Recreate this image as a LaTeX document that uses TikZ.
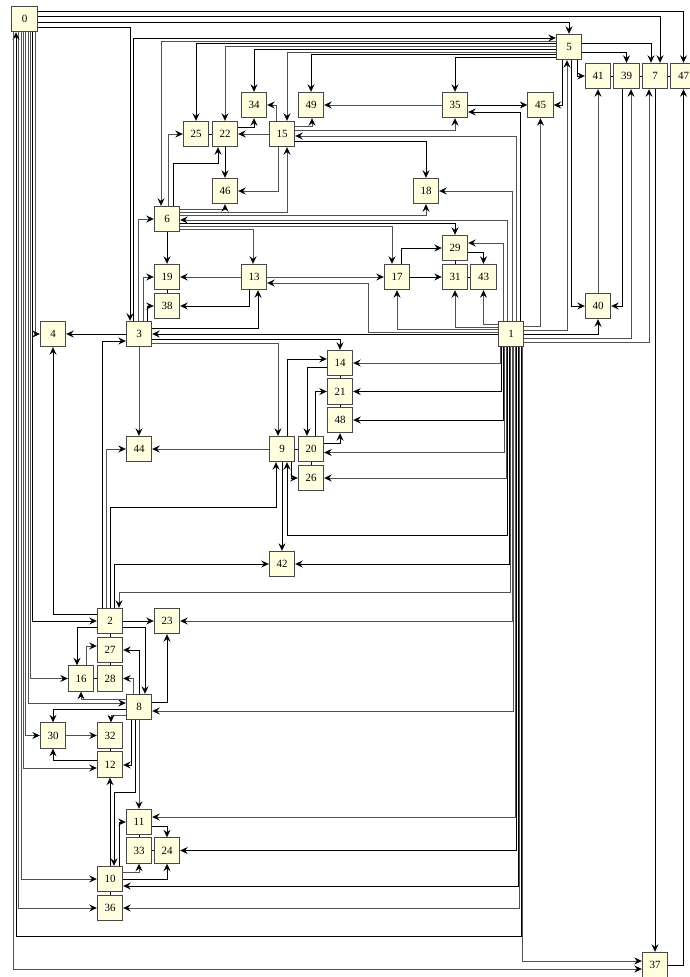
\documentclass[tikz,border=0pt]{standalone}
\usepackage{fontspec}
\setmainfont{Liberation Serif}
\usetikzlibrary{arrows.meta}
\definecolor{ly}{HTML}{FFFFE0}
\tikzset{
 nd/.style={draw=black!72, fill=ly, minimum width=25.5pt, minimum height=25.5pt, inner sep=0pt, line width=0.9pt, font=\fontsize{11}{13}\selectfont},
 e/.style={draw=black, line width=0.8pt, -{Stealth[length=7.5pt,width=7pt,inset=2.6pt,color=black]}},
 g/.style={e, draw=black!68},
 dt/.style={draw=black, line width=0.8pt},
}
\begin{document}
\begin{tikzpicture}[x=1pt,y=-1pt]
\useasboundingbox (0,0) rectangle (689,977);
\node[nd] (n0) at (24.5,19) {0};
\node[nd] (n5) at (569,47) {5};
\node[nd] (n41) at (598,76) {41};
\node[nd] (n39) at (626.5,76) {39};
\node[nd] (n7) at (655,76) {7};
\node[nd] (n47) at (683.5,76) {47};
\node[nd] (n35) at (455,105) {35};
\node[nd] (n45) at (540.5,105) {45};
\node[nd] (n34) at (254,105) {34};
\node[nd] (n49) at (311,105) {49};
\node[nd] (n25) at (196,134) {25};
\node[nd] (n22) at (225,134) {22};
\node[nd] (n15) at (282,134) {15};
\node[nd] (n46) at (225,191) {46};
\node[nd] (n18) at (426,191) {18};
\node[nd] (n6) at (167,219) {6};
\node[nd] (n29) at (455,248) {29};
\node[nd] (n19) at (167,277) {19};
\node[nd] (n13) at (254,277) {13};
\node[nd] (n17) at (397,277) {17};
\node[nd] (n31) at (455,277) {31};
\node[nd] (n43) at (483.5,277) {43};
\node[nd] (n38) at (167,306) {38};
\node[nd] (n40) at (598,306) {40};
\node[nd] (n4) at (53,334) {4};
\node[nd] (n3) at (139,334) {3};
\node[nd] (n1) at (511,334) {1};
\node[nd] (n14) at (340,363) {14};
\node[nd] (n21) at (340,391.5) {21};
\node[nd] (n48) at (340,420) {48};
\node[nd] (n44) at (139,449) {44};
\node[nd] (n9) at (282,449) {9};
\node[nd] (n20) at (311,449) {20};
\node[nd] (n26) at (311,478) {26};
\node[nd] (n42) at (282,564) {42};
\node[nd] (n2) at (110,621) {2};
\node[nd] (n23) at (167,621) {23};
\node[nd] (n27) at (110,650) {27};
\node[nd] (n16) at (81,678.5) {16};
\node[nd] (n28) at (110,678.5) {28};
\node[nd] (n8) at (139,707) {8};
\node[nd] (n30) at (53,735.5) {30};
\node[nd] (n32) at (110,735.5) {32};
\node[nd] (n12) at (110,764.5) {12};
\node[nd] (n11) at (139,822) {11};
\node[nd] (n33) at (139,850.5) {33};
\node[nd] (n24) at (167,850.5) {24};
\node[nd] (n10) at (110,879) {10};
\node[nd] (n36) at (110,908) {36};
\node[nd] (n37) at (655,965) {37};
% edges of 0
\draw[e] (n0.east |- 0,11) -| (n47.north);
\draw[e] (n0.east |- 0,16) -| (n7.north -| 660,0);
\draw[e] (n0.east |- 0,22) -| (n5.north);
\draw[e] (n0.east |- 0,27) -| (n3.north -| 130,0);
\draw[g] (n0.south -| 35,0) |- (n4.west);
\draw[e] (n0.south -| 32.5,0) |- (n2.west);
\draw[g] (n0.south -| 30,0) |- (n16.west);
\draw[g] (n0.south -| 28,0) |- (n8.west |- 0,703);
\draw[g] (n0.south -| 25.5,0) |- (n30.west);
\draw[g] (n0.south -| 23,0) |- (n12.west |- 0,768);
\draw[g] (n0.south -| 21,0) |- (n10.west);
\draw[g] (n0.south -| 18.5,0) |- (n36.west);
\draw[e] (n1.south -| 521,0) |- (16,936) -- (n0.south -| 16,0);
\draw[g] (n0.south -| 13.5,0) |- (n37.west |- 0,969);
% edges of 5
\draw[e] (n3.north -| 133,0) |- (n5.west |- 0,38);
\draw[g] (n5.west |- 0,41) -| (n6.north -| 161,0);
\draw[e] (n5.west |- 0,43.5) -| (n25.north);
\draw[g] (n5.west |- 0,46) -| (n22.north);
\draw[e] (n5.west |- 0,49) -| (n34.north);
\draw[g] (n5.west |- 0,52) -| (n15.north -| 287,0);
\draw[e] (n5.west |- 0,54.5) -| (n49.north);
\draw[e] (n5.west |- 0,57) -| (n35.north);
\draw[e] (n5.east |- 0,43) -| (n7.north -| 651,0);
\draw[e] (n5.east |- 0,52) -| (n39.north);
\draw[e] (n5.south -| 577,0) |- (n41.west);
\draw[e] (n5.south -| 562,0) |- (n45.east);
\draw[g] (n1.east |- 0,330) -| (n5.south -| 567,0);
\draw[e] (n5.south -| 571,0) |- (n40.west);
\draw[g] (n1.east |- 0,326) -| (n45.south);
\draw[e] (n1.east |- 0,334) -| (n40.south);
\draw[g] (n1.east |- 0,338) -| (n39.south -| 631,0);
\draw[e] (n39.south -| 622,0) |- (n40.east);
\draw[g] (n1.east |- 0,342.5) -| (n7.south -| 649,0);
\draw[e] (n7.south) -- (n37.north);
\draw[e] (n37.east) -| (n47.south);
\draw[g] (n40.north) -- (n41.south);
\draw[g] (n1.south -| 522.5,0) |- (n37.west |- 0,961);
% 35, 15, 6
\draw[e] (n35.east) -- (n45.west);
\draw[g] (n35.west) -- (n49.east);
\draw[g] (n15.east |- 0,130.5) -| (n35.south);
\draw[e] (n1.north -| 520,0) |- (n35.east |- 0,112);
\draw[g] (n1.north -| 516,0) |- (n15.east |- 0,136);
\draw[e] (n15.east |- 0,141) -| (n18.north);
\draw[g] (n1.north -| 512,0) |- (n18.east);
\draw[g] (n1.north -| 507.5,0) |- (n6.east |- 0,220);
\draw[g] (n1.north -| 503,0) |- (n29.east |- 0,243);
\draw[g] (n6.east |- 0,215) -| (n18.south);
\draw[e] (n6.east |- 0,223) -| (n29.north);
\draw[g] (n6.east |- 0,226) -| (n17.north -| 392,0);
\draw[g] (n6.east |- 0,229) -| (n13.north -| 253,0);
\draw[g] (n6.east |- 0,209) -| (n46.south);
\draw[g] (n6.east |- 0,212) -| (n15.south -| 287,0);
\draw[e] (n6.south) -- (n19.north);
\draw[g] (n6.north -| 168,0) |- (n25.west);
\draw[e] (n6.north -| 173,0) |- (218,163) -- (n22.south -| 218,0);
\draw[g] (n3.north -| 138,0) |- (n6.west);
\draw[g] (n15.north -| 276,0) |- (n34.east);
\draw[g] (n15.east |- 0,126) -| (n49.south -| 312,0);
\draw[g] (n15.west) -- (n22.east);
\draw[g] (n15.south -| 278,0) |- (n46.east);
\draw[e] (n22.east |- 0,127) -| (n34.south);
\draw[e] (n22.south) -- (n46.north);
% 13, 17, 29
\draw[g] (n13.west) -- (n19.east);
\draw[e] (n13.south -| 249,0) |- (n38.east);
\draw[e] (n3.east |- 0,328) -| (n13.south -| 258,0);
\draw[g] (n1.west |- 0,332) -| (368,283) -- (n13.east |- 0,283);
\draw[g] (n13.east |- 0,277) -- (n17.west);
\draw[e] (n17.east) -- (n31.west);
\draw[e] (n17.north -| 401,0) |- (n29.west);
\draw[g] (n1.west |- 0,329.5) -| (n17.south);
\draw[g] (n1.west |- 0,327) -| (n31.south);
\draw[g] (n1.west |- 0,324.5) -| (n43.south);
\draw[e] (n29.east |- 0,252) -| (n43.north);
% 3
\draw[g] (n3.north -| 143,0) |- (n19.west);
\draw[e] (n3.north -| 147,0) |- (n38.west);
\draw[e] (n3.west) -- (n4.east);
\draw[e] (n1.west) -- (n3.east);
\draw[e] (n3.east |- 0,339) -| (n14.north);
\draw[g] (n3.east |- 0,343) -| (n9.north -| 278,0);
\draw[g] (n3.south) -- (n44.north);
\draw[e] (n2.north -| 102,0) |- (n3.west |- 0,341);
\draw[g] (n2.north -| 106,0) |- (n44.west);
\draw[e] (n2.north -| 110.5,0) |- (276,507) -- (n9.south -| 276,0);
\draw[e] (n2.north -| 114.5,0) |- (n42.west);
\draw[g] (n1.south -| 510.5,0) |- (119,592) -- (n2.north -| 119,0);
\draw[e] (n2.west |- 0,614) -| (n4.south);
% 9, 20
\draw[g] (n9.west) -- (n44.east);
\draw[e] (n9.north -| 287,0) |- (n14.west |- 0,359);
\draw[e] (n9.south) -- (n42.north);
\draw[e] (n9.south -| 291,0) |- (n26.west);
\draw[e] (n1.south -| 507.5,0) |- (287,535) -- (n9.south -| 287,0);
\draw[e] (n14.west |- 0,367) -| (n20.north -| 307,0);
\draw[e] (n20.north -| 315,0) |- (n21.west);
\draw[e] (n20.east |- 0,443) -| (n48.south);
% from the bottom of 1
\draw[g] (n1.south -| 500,0) |- (n14.east);
\draw[e] (n1.south -| 501.5,0) |- (n21.east);
\draw[e] (n1.south -| 503,0) |- (n48.east);
\draw[g] (n1.south -| 504.5,0) |- (n20.east |- 0,452.5);
\draw[g] (n1.south -| 506,0) |- (n26.east);
\draw[e] (n1.south -| 509,0) |- (n42.east);
\draw[g] (n1.south -| 512,0) |- (n23.east);
\draw[g] (n1.south -| 513.5,0) |- (n8.east |- 0,711);
\draw[g] (n1.south -| 515,0) |- (n11.east |- 0,817);
\draw[e] (n1.south -| 516.5,0) |- (n24.east);
\draw[e] (n1.south -| 518,0) |- (n10.east |- 0,886);
\draw[g] (n1.south -| 519.5,0) |- (n36.east);
% 2, 8, 10
\draw[e] (n2.east) -- (n23.west);
\draw[e] (n2.east |- 0,627) -| (n8.north -| 145,0);
\draw[e] (n2.west |- 0,627) -| (n16.north -| 77,0);
\draw[g] (n16.north -| 86,0) |- (n27.west |- 0,646);
\draw[e] (n8.north -| 139,0) |- (n27.east);
\draw[g] (n8.north -| 133,0) |- (n28.east);
\draw[g] (n8.west |- 0,699) -| (n16.south);
\draw[e] (n8.east |- 0,702) -| (n23.south);
\draw[e] (n8.west |- 0,709) -| (n30.north);
\draw[g] (n8.west |- 0,715) -| (n32.north -| 111,0);
\draw[e] (n8.south -| 131,0) |- (n12.east |- 0,765);
\draw[g] (n8.south) -- (n11.north);
\draw[e] (n8.south -| 135,0) |- (114,792) -- (n10.north -| 114,0);
\draw[g] (n30.east) -- (n32.west);
\draw[e] (n12.west |- 0,760) -| (n30.south);
\draw[e] (n10.north -| 110,0) -- (n12.south);
\draw[e] (n10.north -| 119,0) |- (n11.west);
\draw[e] (n11.east |- 0,826) -| (n24.north);
\draw[g] (n10.east |- 0,872) -| (n33.south);
\draw[e] (n10.east) -| (n24.south);
% short links between adjacent boxes
\draw[dt] (n25.east) -- (n22.west);
\draw[dt] (n41.east) -- (n39.west);
\draw[dt] (n39.east) -- (n7.west);
\draw[dt] (n7.east) -- (n47.west);
\draw[dt] (n19.south) -- (n38.north);
\draw[dt] (n29.south) -- (n31.north);
\draw[dt] (n31.east) -- (n43.west);
\draw[dt] (n14.south) -- (n21.north);
\draw[dt] (n21.south) -- (n48.north);
\draw[dt] (n9.east) -- (n20.west);
\draw[dt] (n20.south) -- (n26.north);
\draw[dt] (n2.south) -- (n27.north);
\draw[dt] (n27.south) -- (n28.north);
\draw[dt] (n16.east) -- (n28.west);
\draw[dt] (n32.south) -- (n12.north);
\draw[dt] (n11.south) -- (n33.north);
\draw[dt] (n33.east) -- (n24.west);
\draw[dt] (n10.south) -- (n36.north);
\end{tikzpicture}
\end{document}
